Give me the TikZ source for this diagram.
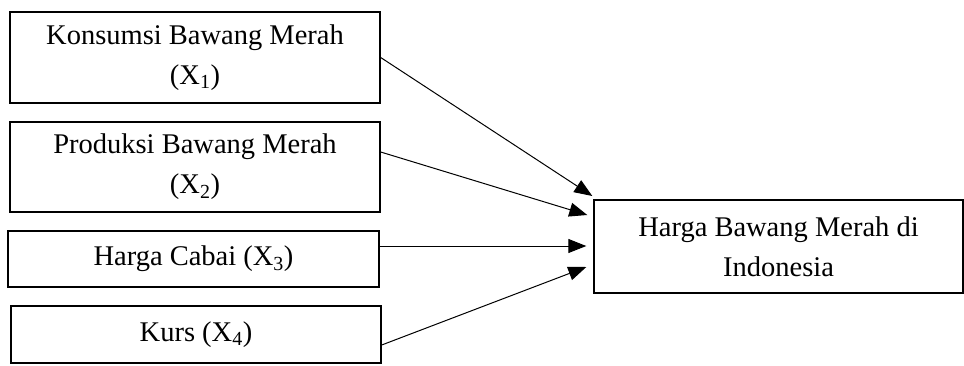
\documentclass[tikz,border=0pt]{standalone}
\usepackage{fontspec}
\setmainfont{Liberation Serif}
\usetikzlibrary{arrows.meta}
\tikzset{
  varbox/.style={draw, line width=1.4pt, minimum width=370pt, align=center,
    inner sep=0pt, font=\fontsize{28.5}{40}\selectfont},
}
\begin{document}
\begin{tikzpicture}[>={Triangle[length=18pt,width=14pt]}, x=1pt, y=1pt, line width=1pt]
\useasboundingbox (0,0) rectangle (964,-365);
\node[varbox, minimum height=91pt] (kons) at (195,-57.5) {Konsumsi Bawang Merah\\(X\textsubscript{1})};
\node[varbox, minimum height=90pt] (prod) at (195,-167) {Produksi Bawang Merah\\(X\textsubscript{2})};
\node[varbox, minimum height=56pt, minimum width=371pt] (cabai) at (193.5,-259) {Harga Cabai (X\textsubscript{3})};
\node[varbox, minimum height=57pt] (kurs) at (196,-334.5) {Kurs (X\textsubscript{4})};
\node[varbox, minimum height=93pt, minimum width=369pt] (harga) at (778.5,-246.5) {Harga Bawang Merah di\\Indonesia};
\draw[->](kons.east)--([xshift=-1pt,yshift=50.5pt]harga.west);
\draw[->]([yshift=15pt]prod.east)--([xshift=-6pt,yshift=31.5pt]harga.west);
\draw[->]([yshift=13pt]cabai.east)--([xshift=-7pt,yshift=0.5pt]harga.west);
\draw[->]([yshift=-10.5pt]kurs.east)--([xshift=-7pt,yshift=-20.5pt]harga.west);
\end{tikzpicture}
\end{document}
